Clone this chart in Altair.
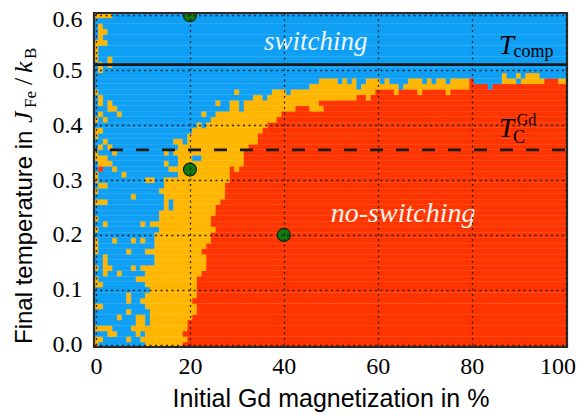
import altair as alt
import pandas as pd

# ---------------- data ----------------
x_ticks = [0, 20, 40, 60, 80, 100]
y_ticks = [0.0, 0.1, 0.2, 0.3, 0.4, 0.5, 0.6]

# rows k = 0..43 (y = k*0.01): first Gd-% index that is yellow / red
row_yellow_start = [10, 10, 11, 8, 9, 9, 12, 11, 11, 11,
                    12, 11, 9, 11, 10, 13, 13, 11, 13, 13,
                    13, 14, 13, 14, 14, 15, 15, 15, 14, 15,
                    15, 16, 16, 18, 18, 17, 18, 20, 20, 21,
                    22, 25, 26, 29]
row_red_start = [19, 20, 19, 20, 20, 21, 22, 22, 21, 22,
                 22, 22, 22, 23, 24, 24, 24, 24, 24, 25,
                 25, 26, 25, 25, 26, 26, 27, 28, 28, 28,
                 29, 29, 29, 32, 32, 32, 33, 35, 35, 36,
                 37, 39, 40, 43]

# columns x = 0..100, rows k >= 44: highest red row / highest yellow row
col_red_top = [43, 43, 43, 43, 43, 43, 43, 43, 43, 43,
               43, 43, 43, 43, 43, 43, 43, 43, 43, 43,
               43, 43, 43, 43, 43, 43, 43, 43, 43, 43,
               43, 43, 43, 43, 43, 43, 43, 43, 43, 43,
               43, 43, 43, 43, 43, 43, 43, 43, 44, 44,
               44, 44, 44, 44, 44, 44, 45, 45, 45, 45,
               46, 46, 46, 46, 45, 46, 46, 46, 46, 46,
               46, 46, 46, 46, 46, 46, 46, 46, 46, 46,
               48, 47, 47, 47, 47, 47, 47, 47, 47, 47,
               47, 47, 47, 47, 47, 47, 48, 48, 48, 47,
               47]
col_yellow_top = [43, 43, 43, 43, 43, 43, 43, 43, 43, 43,
                  43, 43, 43, 43, 43, 43, 43, 43, 43, 43,
                  43, 43, 43, 43, 43, 43, 43, 43, 43, 44,
                  44, 43, 44, 44, 45, 45, 45, 45, 46, 46,
                  46, 46, 46, 46, 46, 46, 47, 47, 48, 48,
                  48, 48, 47, 48, 47, 48, 47, 47, 48, 48,
                  48, 47, 48, 47, 47, 47, 47, 48, 48, 48,
                  47, 48, 48, 48, 48, 47, 48, 48, 48, 48,
                  48, 47, 47, 47, 47, 47, 47, 49, 48, 48,
                  49, 48, 49, 49, 49, 48, 48, 48, 48, 48,
                  48]

# isolated cells (x index, row k)
yellow_specks = [(0, 0), (0, 1), (1, 1), (0, 3), (1, 3), (2, 3), (3, 3), (3, 2), (4, 2),
                 (7, 1), (9, 2), (5, 5), (7, 6), (0, 7), (1, 7), (7, 8), (7, 9), (10, 8),
                 (0, 11), (1, 11), (0, 12), (2, 13), (5, 13), (0, 14), (2, 14), (3, 14),
                 (8, 14), (2, 15), (2, 16), (0, 17), (7, 17), (0, 18), (0, 19), (4, 19),
                 (8, 19), (10, 19), (0, 21), (2, 22), (10, 22), (12, 22), (0, 23), (0, 26),
                 (1, 26), (2, 26), (8, 27), (0, 28), (1, 29), (2, 29), (0, 30), (11, 30),
                 (12, 30), (0, 31), (6, 31), (4, 32), (1, 33), (2, 33), (3, 33), (15, 33),
                 (0, 34), (1, 34), (2, 34), (0, 35), (4, 35), (15, 35), (1, 36), (3, 36),
                 (2, 37), (17, 37), (18, 37), (0, 38), (0, 39), (1, 39), (0, 41), (2, 41),
                 (1, 42), (5, 42), (23, 42), (3, 43), (4, 43), (46, 43), (47, 43), (48, 43),
                 (1, 44), (3, 44), (26, 44), (1, 45), (58, 45), (0, 46), (30, 46), (69, 46),
                 (75, 46), (30, 32), (1, 50), (1, 51), (3, 51), (0, 52), (3, 52), (0, 53),
                 (0, 54), (0, 55), (1, 55), (2, 55), (1, 56), (1, 57), (2, 57), (1, 58),
                 (0, 60), (1, 60), (2, 60), (3, 60)]
blue_specks = [(10, 0), (11, 4), (11, 5), (11, 15), (12, 15), (11, 16), (12, 16),
               (16, 25), (16, 26), (16, 31), (17, 31), (21, 34), (22, 34), (23, 40),
               (31, 43), (31, 44), (36, 45), (41, 46), (56, 47), (65, 47), (84, 47),
               (72, 48), (90, 48)]
red_specks = [(1, 32), (23, 17)]

# markers and reference lines
dot_x = [20, 20, 40]
dot_y = [0.6, 0.319, 0.2]
t_comp_y = [0.51]
t_curie_y = [0.355]

# ---------------- build cell runs ----------------
cell = {}
for k in range(61):
    for x in range(101):
        if k < len(row_yellow_start):
            c = "B" if x < row_yellow_start[k] else ("Y" if x < row_red_start[k] else "R")
        else:
            c = "R" if k <= col_red_top[x] else ("Y" if k <= col_yellow_top[x] else "B")
        cell[(x, k)] = c
for x, k in yellow_specks:
    cell[(x, k)] = "Y"
for x, k in blue_specks:
    cell[(x, k)] = "B"
for x, k in red_specks:
    cell[(x, k)] = "R"

runs = []
for k in range(61):
    x = 0
    while x <= 100:
        c = cell[(x, k)]
        e = x
        while e + 1 <= 100 and cell[(e + 1, k)] == c:
            e += 1
        runs.append({"x0": x - 0.5, "x1": e + 0.5,
                     "y0": round(k * 0.01 - 0.005, 4), "y1": round(k * 0.01 + 0.005, 4), "c": c})
        x = e + 1
heat_df = pd.DataFrame(runs)

BLUE, YEL, RED = "#0fa0f5", "#ffb600", "#ff3500"
cscale = alt.Scale(domain=["B", "Y", "R"], range=[BLUE, YEL, RED])

xs = alt.Scale(domain=[-0.43, 100.3], nice=False, zero=False)
ys = alt.Scale(domain=[-0.004, 0.604], nice=False, zero=False)
grid_style = dict(grid=True, gridColor="#1a1a1a", gridDash=[2, 3.5], gridWidth=1.3,
                  gridOpacity=0.9, ticks=False, domain=False, zindex=1)
xaxis = alt.Axis(values=x_ticks, format="d", title="Initial Gd magnetization in %",
                 labelPadding=7, titlePadding=8,
                 labelOffset={"condition": {"test": "datum.value >= 99", "value": -8}, "value": 0},
                 **grid_style)
yaxis = alt.Axis(values=y_ticks, format=".1f", title="", labelPadding=12,
                 labelOffset={"condition": {"test": "datum.value > 0.59", "value": 4}, "value": 0},
                 **grid_style)

heat = alt.Chart(heat_df).mark_rect(clip=True, strokeWidth=0.35).encode(
    x=alt.X("x0:Q", scale=xs, axis=xaxis),
    x2="x1:Q",
    y=alt.Y("y0:Q", scale=ys, axis=yaxis),
    y2="y1:Q",
    color=alt.Color("c:N", scale=cscale, legend=None),
    stroke=alt.Stroke("c:N", scale=cscale, legend=None),
)

comp_line = alt.Chart(pd.DataFrame({"y": t_comp_y})).mark_rule(
    color="#1a1a1a", strokeWidth=2.6).encode(y=alt.Y("y:Q", scale=ys, axis=yaxis))
curie_line = alt.Chart(pd.DataFrame({"y": t_curie_y})).mark_rule(
    color="#1a1a1a", strokeWidth=2.8, strokeDash=[13, 13], strokeDashOffset=-2).encode(
    y=alt.Y("y:Q", scale=ys, axis=yaxis))

dots = alt.Chart(pd.DataFrame({"x": dot_x, "y": dot_y})).mark_circle(
    size=170, color="#137a13", opacity=1, stroke="#0a2a0a", strokeWidth=1.2, clip=True).encode(
    x=alt.X("x:Q", scale=xs, axis=xaxis), y=alt.Y("y:Q", scale=ys, axis=yaxis))

frame = alt.Chart(pd.DataFrame({"f": [0]})).mark_rect(
    filled=False, stroke="#2a2a2a", strokeWidth=2.2).encode(
    x=alt.value(0), x2=alt.value(473), y=alt.value(0), y2=alt.value(334))


def label(txt, x, y, size, italic=False, color="black", align="left", baseline="alphabetic",
          font="Liberation Serif"):
    return alt.Chart(pd.DataFrame({"x": [x], "y": [y], "t": [txt]})).mark_text(
        font=font, fontSize=size, fontStyle="italic" if italic else "normal",
        color=color, align=align, baseline=baseline).encode(
        x=alt.X("x:Q", scale=xs, axis=xaxis), y=alt.Y("y:Q", scale=ys, axis=yaxis), text="t:N")


texts = [
    label("switching", 46.8, 0.552, 27, italic=True, color="#eef6ff", align="center", baseline="middle"),
    label("no-switching", 65.4, 0.239, 28, italic=True, color="#fff3ee", align="center", baseline="middle"),
    label("T", 85.8, 0.5285, 27, italic=True),
    label("comp", 88.9, 0.523, 18),
    label("T", 85.8, 0.379, 27, italic=True),
    label("C", 88.8, 0.367, 18),
    label("Gd", 89.6, 0.401, 16),
]


def ytitle(txt, xpix, ypix, size, italic=False, font="Liberation Serif"):
    return alt.Chart(pd.DataFrame({"t": [txt]})).mark_text(
        font=font, fontSize=size, fontStyle="italic" if italic else "normal",
        color="black", align="left", baseline="alphabetic", angle=270).encode(
        x=alt.value(xpix), y=alt.value(ypix), text="t:N")


ytitles = [
    ytitle("Final temperature in", -62, 331, 24, font="Liberation Sans"),
    ytitle("J", -62, 110, 26, italic=True),
    ytitle("Fe", -58, 95, 17),
    ytitle("/", -62, 72, 26),
    ytitle("k", -62, 60, 26, italic=True),
    ytitle("B", -58, 46, 17),
]

chart = alt.layer(heat, comp_line, curie_line, dots, frame, *texts, *ytitles).properties(
    width=473, height=334,
    autosize=alt.AutoSizeParams(type="none"),
    padding={"left": 86, "top": 5, "right": 9, "bottom": 70},
).configure_view(strokeWidth=0).configure_axis(
    labelFont="Liberation Serif", labelFontSize=24, labelColor="black",
    titleFont="Liberation Sans", titleFontSize=25, titleFontWeight="normal", titleColor="black",
)

chart.save("out.html", embed_options={"renderer": "svg", "actions": False})
